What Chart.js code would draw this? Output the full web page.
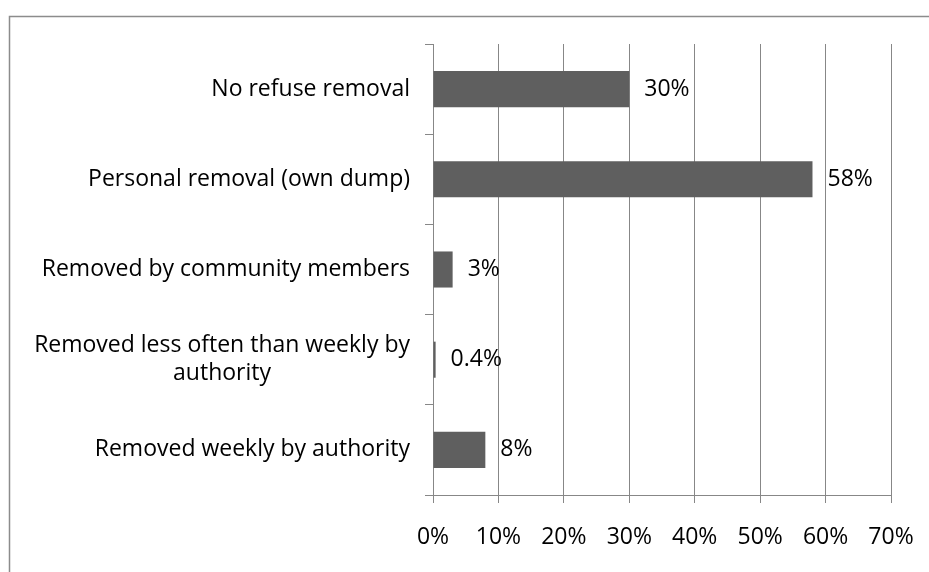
<!DOCTYPE html>
<html lang="en">
<head>
    <meta charset="UTF-8">
    <title>Refuse removal</title>
<style>
    html, body {
        margin: 0;
        padding: 0;
        background: #ffffff;
        overflow: hidden;
    }
    #refuse-container {
        width: 929px;
        height: 572px;
        position: relative;
    }
</style>
</head>
<body>
    <div id="refuse-container">
        <canvas id="refuseChart"></canvas>
    </div>

    <script src="https://cdn.jsdelivr.net/npm/chart.js"></script>
    <script>
        // categories, top to bottom
        const refuseCategories = [
            'No refuse removal',
            'Personal removal (own dump)',
            'Removed by community members',
            ['Removed less often than weekly by', 'authority'],
            'Removed weekly by authority'
        ];
        // share of households, in percent
        const refuseShares = [30, 58, 3, 0.4, 8];
        // x axis: 0% .. 70%
        const axisMax = 70;
        const axisStep = 10;

        const fontFamily = '"Open Sans", "Noto Sans", sans-serif';
        const labelFont = '500 23px ' + fontFamily;
        const lineColor = '#878787';

        // outer frame, runs past the right and bottom edges
        const framePlugin = {
            id: 'frame',
            beforeDraw(chart) {
                const ctx = chart.ctx;
                ctx.save();
                ctx.strokeStyle = '#8c8c8c';
                ctx.lineWidth = 1.5;
                ctx.beginPath();
                ctx.moveTo(9.5, 600);
                ctx.lineTo(9.5, 16.5);
                ctx.lineTo(960, 16.5);
                ctx.stroke();
                ctx.restore();
            }
        };

        // category labels: block right aligned, lines centred in the block
        const categoryLabelPlugin = {
            id: 'categoryLabels',
            afterDraw(chart) {
                const ctx = chart.ctx;
                const yScale = chart.scales.y;
                const right = chart.chartArea.left - 23;
                const lh = 28;
                ctx.save();
                ctx.font = labelFont;
                ctx.fillStyle = '#000000';
                ctx.textAlign = 'center';
                ctx.textBaseline = 'middle';
                refuseCategories.forEach((label, i) => {
                    const lines = Array.isArray(label) ? label : [label];
                    const w = Math.max(...lines.map(l => ctx.measureText(l).width));
                    const cx = right - w / 2;
                    const yc = yScale.getPixelForValue(i);
                    lines.forEach((line, j) => {
                        ctx.fillText(line, cx, yc + (j - (lines.length - 1) / 2) * lh);
                    });
                });
                ctx.restore();
            }
        };

        // value labels at the end of each bar
        const valueLabelPlugin = {
            id: 'valueLabels',
            afterDatasetsDraw(chart) {
                const ctx = chart.ctx;
                const meta = chart.getDatasetMeta(0);
                ctx.save();
                ctx.font = labelFont;
                ctx.fillStyle = '#000000';
                ctx.textAlign = 'left';
                ctx.textBaseline = 'middle';
                meta.data.forEach((bar, i) => {
                    ctx.fillText(refuseShares[i] + '%', bar.x + 15, bar.y);
                });
                ctx.restore();
            }
        };

        const ctx = document.getElementById('refuseChart').getContext('2d');
        new Chart(ctx, {
            type: 'bar',
            data: {
                labels: refuseCategories,
                datasets: [{
                    data: refuseShares,
                    backgroundColor: '#5f5f5f',
                    borderWidth: 0,
                    barPercentage: 0.4,
                    categoryPercentage: 1.0
                }]
            },
            options: {
                indexAxis: 'y',
                responsive: true,
                maintainAspectRatio: false,
                animation: false,
                layout: {
                    padding: { top: 44, right: 38, left: 0, bottom: 0 }
                },
                scales: {
                    x: {
                        min: 0,
                        max: axisMax,
                        afterFit(scale) {
                            scale.height = 77;
                            scale.paddingLeft = 0;
                            scale.paddingRight = 0;
                        },
                        ticks: {
                            stepSize: axisStep,
                            padding: 21,
                            color: '#000000',
                            font: { family: fontFamily, size: 23, weight: 500 },
                            callback: v => v + '%'
                        },
                        grid: {
                            color: lineColor,
                            lineWidth: 1,
                            tickLength: 8,
                            drawTicks: true
                        },
                        border: { color: lineColor, width: 1 }
                    },
                    y: {
                        afterFit(scale) { scale.width = 433; },
                        ticks: { display: false },
                        grid: {
                            drawOnChartArea: false,
                            drawTicks: true,
                            tickLength: 8,
                            color: lineColor,
                            offset: true
                        },
                        border: { color: lineColor, width: 1 }
                    }
                },
                plugins: {
                    legend: { display: false },
                    tooltip: { enabled: false }
                }
            },
            plugins: [framePlugin, categoryLabelPlugin, valueLabelPlugin]
        });
    </script>
</body>
</html>
